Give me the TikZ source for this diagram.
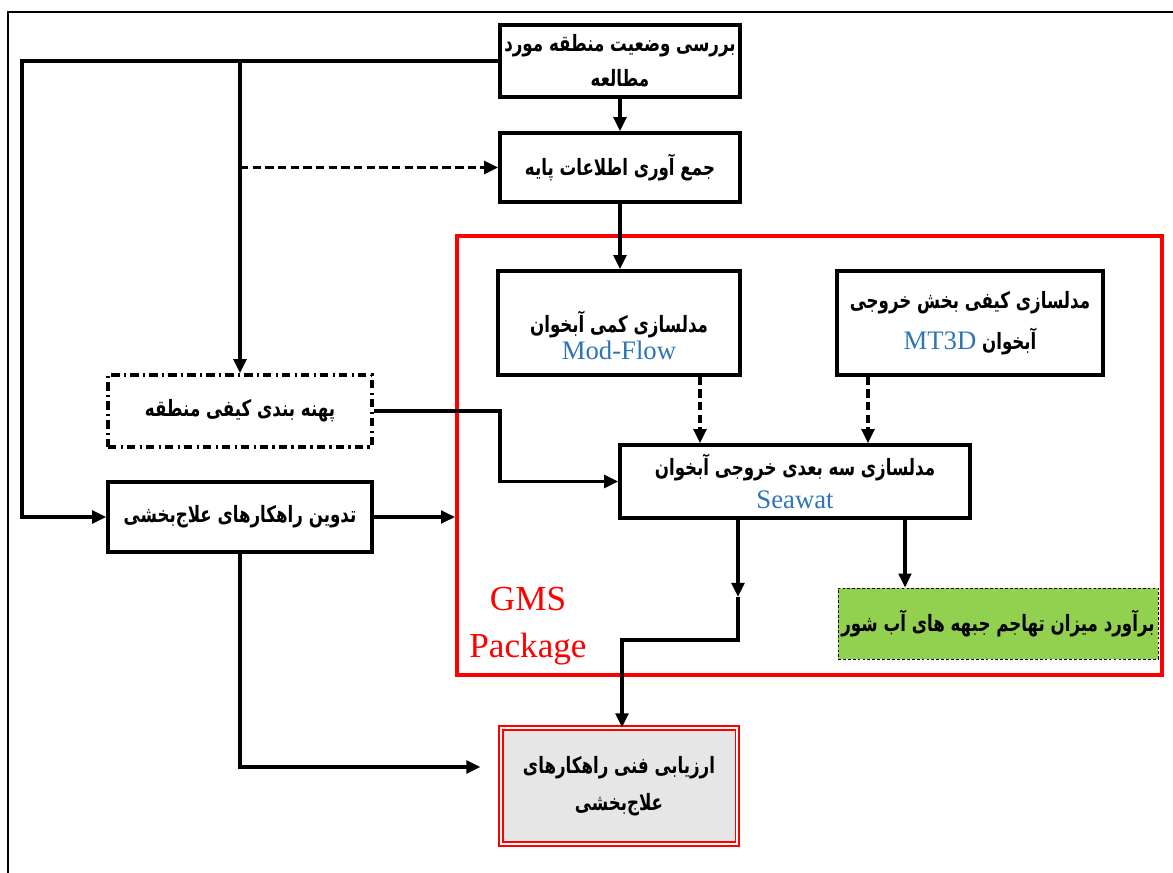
\documentclass[tikz,border=0pt]{standalone}
\usepackage{fontspec}
\setmainfont{Liberation Serif}
\newfontfamily\fa[Script=Arabic,FakeStretch=0.74]{DejaVu Sans}
\TeXXeTstate=1
\usetikzlibrary{arrows.meta}
\definecolor{lblue}{HTML}{2E75B6}
\definecolor{gfill}{HTML}{92D050}
\definecolor{grayfill}{HTML}{E6E6E6}
\newcommand\rl[1]{\beginR #1\endR}
\newcommand\lat[1]{\beginL{\normalfont\fontsize{19}{22}\selectfont\color{lblue}#1}\endL}
\tikzset{
  box/.style={draw, line width=2.4pt, rectangle, inner sep=2pt, align=center,
    font=\fa\bfseries\fontsize{16}{26}\selectfont},
  conn/.style={line width=2.3pt, -{Triangle[length=10pt,width=9pt]}},
  dconn/.style={conn, dash pattern=on 6pt off 3pt},
}
\begin{document}
\begin{tikzpicture}[x=0.025cm, y=-0.025cm]
\useasboundingbox (0,0) rectangle (1173,873);
% outer frame (partial)
\draw[line width=1.1pt] (8,873) -- (8,12) -- (1173,12);
% GMS red frame
\node[draw=red, line width=2.6pt, minimum width=17.625cm, minimum height=10.975cm, inner sep=0] (gms) at (809.5,455.5) {};
\node[text=red, align=center, font=\fontsize{25}{33}\selectfont] (gmstxt) at (528,626) {GMS\\Package};
% nodes
\node[box, minimum width=6cm, minimum height=1.8cm] (n1) at (620,61)
  {\rl{بررسی وضعیت منطقه مورد}\\[-1pt]\rl{مطالعه}};
\node[box, minimum width=6cm, minimum height=1.725cm] (n2) at (620,167.5)
  {\rl{جمع آوری اطلاعات پایه}};
\node[box, minimum width=6.05cm, minimum height=2.6cm] (mod) at (619,323)
  {\rule{0pt}{1.15cm}\rl{مدلسازی کمی آبخوان}\\[-7pt]\lat{Mod-Flow}};
\node[box, minimum width=6.65cm, minimum height=2.6cm] (mt) at (970,323)
  {\rl{مدلسازی کیفی بخش خروجی}\\[3pt]\rl{آبخوان \lat{MT3D}}};
\node[box, minimum width=8.75cm, minimum height=1.825cm] (sea) at (795,481.5)
  {\rl{مدلسازی سه بعدی خروجی آبخوان}\\[-2pt]\lat{Seawat}};
\node[box, line width=0.6pt, dash pattern=on 2pt off 1.5pt, fill=gfill, minimum width=8cm, minimum height=1.775cm] (green) at (998,623.5)
  {\rl{برآورد میزان تهاجم جبهه های آب شور}};
\node[box, dash pattern=on 6pt off 3pt on 1.5pt off 3pt, minimum width=6.6cm, minimum height=1.8cm] (zone) at (240,411)
  {\rl{پهنه بندی کیفی منطقه}};
\node[box, minimum width=6.6cm, minimum height=1.75cm] (tad) at (240,517)
  {\rl{تدوین راهکارهای علاج‌بخشی}};
\node[box, draw=red, line width=0.8pt, double=white, double distance=2pt, fill=grayfill, minimum width=5.9cm, minimum height=2.9cm] (fin) at (619,786)
  {\rl{ارزیابی فنی راهکارهای}\\\rl{علاج‌بخشی}};
% helper coordinates
\coordinate (j1) at (240,61);
\coordinate (j2) at (240,167.5);
\coordinate (cl) at (22,61);
\coordinate (c700) at (700,0);
\coordinate (c868) at (868,0);
\coordinate (c905) at (905,0);
\coordinate (c500) at (500,0);
\coordinate (c767) at (0,767);
\coordinate (mid) at (738,597);
\coordinate (b1) at (738,640);
\coordinate (b2) at (622,640);
% connectors
\draw[conn] (n1.west) -- (cl) |- (tad.west);
\draw[conn] (j1) -- (zone.north);
\draw[dconn] (j2) -- (n2.west);
\draw[conn] (n1.south) -- (n2.north);
\draw[conn] (n2.south) -- (n2.south |- mod.north);
\draw[dconn] (mod.south -| c700) -- (sea.north -| c700);
\draw[dconn] (mt.south -| c868) -- (sea.north -| c868);
\draw[conn] (zone.east) -- (zone.east -| c500) |- (sea.west);
\draw[conn] (tad.east) -- (tad.east -| gms.west);
\draw[conn, shorten >=0.5cm] (tad.south) |- (fin.west |- c767);
\draw[conn] (sea.south -| mid) -- (mid);
\draw[conn] (mid) -- (b1) -- (b2) -- (fin.north -| b2);
\draw[conn] (sea.south -| c905) -- (green.north -| c905);
\end{tikzpicture}
\end{document}
